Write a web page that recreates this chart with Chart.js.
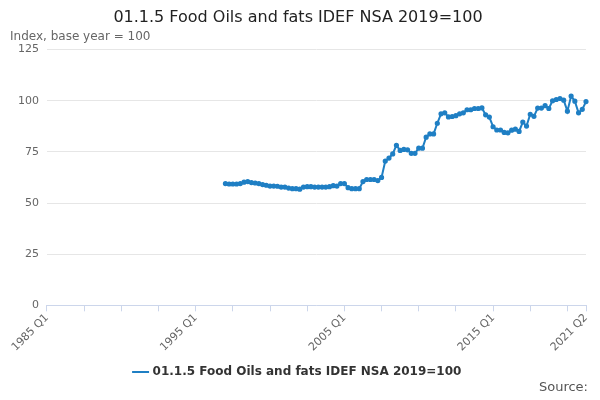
<!DOCTYPE html>
<html>
<head>
<meta charset="utf-8">
<script src="https://cdn.jsdelivr.net/npm/chart.js@4"></script>
<style>
  body { margin: 0; font-family: "DejaVu Sans", sans-serif; }
  #wrap { position: relative; width: 600px; height: 400px; }
  #source { position: absolute; right: 12px; bottom: 6px; font-size: 13px; color: #555; }
</style>
</head>
<body>
<div id="wrap">
  <canvas id="myChart" width="600" height="400"></canvas>
  <div id="source">Source:</div>
</div>
<script>
// Datos trimestrales 1985 Q1 - 2021 Q2
const firstYear = 1985;
const lastYear = 2021;
const lastQuarter = 2;
const seriesName = '01.1.5 Food Oils and fats IDEF NSA 2019=100';
const labelTicks = ['1985 Q1', '1995 Q1', '2005 Q1', '2015 Q1', '2021 Q2'];
const yTicks = [0, 25, 50, 75, 100, 125];

// valores desde 1997 Q1
const startLabel = '1997 Q1';
const values = [
  59.5, 59.3, 59.3, 59.3,
  59.5, 60.2, 60.5, 60.0,
  59.8, 59.5, 59.0, 58.7,
  58.3, 58.3, 58.2, 57.8,
  57.8, 57.3, 57.0, 57.0,
  56.8, 57.8, 58.0, 58.0,
  57.8, 57.8, 57.8, 57.8,
  58.0, 58.5, 58.3, 59.5,
  59.5, 57.5, 57.0, 57.0,
  57.0, 60.5, 61.5, 61.5,
  61.5, 61.0, 62.5, 70.5,
  72.0, 74.0,
  78.2, 75.7, 76.2, 76.0, 74.3, 74.3, 76.8, 76.8, 82.2, 83.8,
  83.8, 89.0, 93.6, 94.1, 92.1, 92.3, 92.7, 93.6, 94.1, 95.6,
  95.6, 96.2, 96.2, 96.5, 93.1, 92.0, 87.3, 85.7, 85.7, 84.5,
  84.3, 85.6, 86.1, 85.0, 89.6, 87.6, 93.4, 92.4, 96.4, 96.4,
  97.6, 96.2, 100.0, 100.6, 101.1, 100.3, 94.9, 102.3, 99.8, 94.1,
  95.8, 99.6
];

const labels = [];
for (let y = firstYear; y <= lastYear; y++) {
  for (let q = 1; q <= 4; q++) {
    if (y === lastYear && q > lastQuarter) break;
    labels.push(y + ' Q' + q);
  }
}
const offset = labels.indexOf(startLabel);
const data = labels.map((l, i) => (i >= offset && i - offset < values.length) ? values[i - offset] : null);
const lastIdx = labels.length - 1;

const ctx = document.getElementById('myChart').getContext('2d');
new Chart(ctx, {
  type: 'line',
  data: {
    labels: labels,
    datasets: [{
      label: seriesName,
      data: data,
      borderColor: '#1f7fc4',
      backgroundColor: '#1f7fc4',
      borderWidth: 2,
      pointRadius: 1.6,
      pointHoverRadius: 3,
      tension: 0,
      spanGaps: false
    }]
  },
  options: {
    responsive: false,
    animation: false,
    layout: { padding: { left: 10, right: 14, top: 4, bottom: 12 } },
    plugins: {
      title: {
        display: true,
        text: seriesName,
        color: '#222',
        font: { family: 'DejaVu Sans', size: 16, weight: 'normal' },
        padding: { top: 4, bottom: 2 }
      },
      subtitle: {
        display: true,
        text: 'Index, base year = 100',
        align: 'start',
        color: '#666',
        font: { family: 'DejaVu Sans', size: 12 },
        padding: { bottom: 6 }
      },
      legend: {
        position: 'bottom',
        labels: {
          usePointStyle: true,
          pointStyle: 'line',
          color: '#333',
          font: { family: 'DejaVu Sans', size: 12, weight: 'bold' },
          padding: 12
        }
      },
      tooltip: { enabled: false }
    },
    scales: {
      x: {
        grid: {
          drawOnChartArea: false,
          tickLength: 6,
          color: (c) => (c.index % 10 === 0 || c.index === lastIdx) ? '#ccd6eb' : 'transparent'
        },
        border: { color: '#ccd6eb' },
        ticks: {
          autoSkip: false,
          maxRotation: 45,
          minRotation: 45,
          padding: 0,
          color: '#666',
          font: { family: 'DejaVu Sans', size: 11 },
          callback: function(v, i) {
            const l = labels[i];
            return labelTicks.includes(l) ? l : '';
          }
        }
      },
      y: {
        min: 0,
        max: 125,
        afterBuildTicks: (s) => { s.ticks = yTicks.map(v => ({ value: v })); },
        grid: { color: '#e6e6e6', drawTicks: false },
        border: { display: false },
        ticks: { color: '#666', padding: 8, font: { family: 'DejaVu Sans', size: 11 } }
      }
    }
  }
});
</script>
</body>
</html>
